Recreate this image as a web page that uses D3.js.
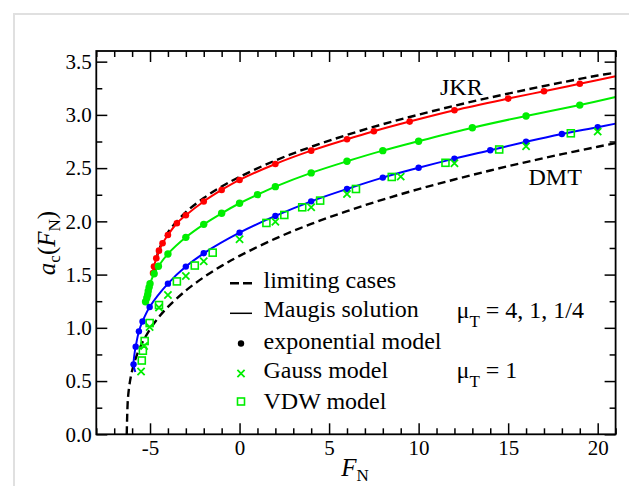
<!DOCTYPE html>
<html><head><meta charset="utf-8">
<script src="https://cdn.jsdelivr.net/npm/d3@7"></script>
<style>
html,body{margin:0;padding:0;background:#fff;}
svg text{font-family:"Liberation Serif","Times New Roman",serif;fill:#000;}
</style></head>
<body>
<svg id="chart" width="629" height="486"></svg>
<script>
// ---------- data ----------
const xMajorTicks = [-5, 0, 5, 10, 15, 20];
const xMinorTicks = [-8,-7,-6,-4,-3,-2,-1,1,2,3,4,6,7,8,9,11,12,13,14,16,17,18,19,21];
const yMajorTicks = [0, 0.5, 1.0, 1.5, 2.0, 2.5, 3.0, 3.5];
const yMinorTicks = [0.25, 0.75, 1.25, 1.75, 2.25, 2.75, 3.25];

// limiting cases (dashed)
const jkrF = [-4.712,-4.6,-4.5,-4,-3,-2,-1,0,2,4,6,8,10,12,14,16,18,20,21];
const jkrA = [1.523,1.676,1.732,1.896,2.086,2.219,2.327,2.418,2.572,2.700,2.812,2.912,3.002,3.086,3.163,3.236,3.305,3.370,3.395];
const dmtF = [-6.30,-6.25,-6.2,-6.1,-6.0,-5.8,-5.5,-5,-4.5,-4,-3,-2,-1,0,2,4,6,8,10,12,14,16,18,20,21];
const dmtA = [0,0.29,0.397,0.516,0.597,0.713,0.837,0.987,1.102,1.196,1.350,1.475,1.582,1.676,1.838,1.976,2.096,2.204,2.303,2.393,2.478,2.557,2.631,2.701,2.735];

// Maugis solutions (solid)
const maugis4F = [-4.85,-4.78,-4.65,-4.5,-4.3,-4,-3.5,-3,-2,-1,0,2,4,6,7.5,9.5,12,15,17,19,21];
const maugis4A = [1.52,1.575,1.653,1.725,1.794,1.872,1.982,2.058,2.187,2.295,2.389,2.539,2.664,2.771,2.846,2.937,3.043,3.153,3.222,3.292,3.362];
const maugis1F = [-5.25,-5.18,-5.13,-5.1,-5.05,-5.0,-4.77,-4.53,-4,-3,-2,-1,0,1,2,4,6,8,10,13,16,19,21];
const maugis1A = [1.245,1.28,1.31,1.345,1.38,1.415,1.508,1.578,1.694,1.85,1.972,2.076,2.17,2.251,2.326,2.455,2.564,2.664,2.752,2.879,2.99,3.092,3.168];
const maugisQF = [-5.82,-5.89,-5.92,-5.88,-5.8,-5.62,-5.42,-5.02,-4,-3,-2,0,2,4,6,8,10,12,14,16,18,20,21];
const maugisQA = [0.585,0.625,0.66,0.74,0.823,0.967,1.06,1.196,1.415,1.575,1.70,1.894,2.051,2.188,2.304,2.411,2.503,2.589,2.668,2.747,2.82,2.884,2.918];

// exponential model (dots)
const expRedF = [19,17,15,12,9.5,7.5,6,4,2,0,-1,-2,-3,-3.5,-4,-4.3,-4.5,-4.65,-4.78,-4.83];
const expRedA = [3.292,3.222,3.153,3.043,2.937,2.846,2.771,2.664,2.539,2.389,2.295,2.187,2.058,1.982,1.872,1.794,1.725,1.653,1.575,1.515];
const expGreenF = [19,16,13,10,8,6,4,2,1,0,-1,-2,-3,-4,-4.53,-4.77,-5.0,-5.05,-5.1,-5.13,-5.18,-5.25];
const expGreenA = [3.092,2.99,2.879,2.752,2.664,2.564,2.455,2.326,2.251,2.17,2.076,1.972,1.85,1.694,1.578,1.508,1.415,1.38,1.345,1.31,1.28,1.245];
const expBlueF = [20,18,16,14,12,10,8,6,4,2,0,-2,-3,-4,-5.02,-5.42,-5.62,-5.8,-5.92];
const expBlueA = [2.884,2.82,2.747,2.668,2.589,2.503,2.411,2.304,2.188,2.051,1.894,1.70,1.575,1.415,1.196,1.06,0.967,0.823,0.657];

// Gauss model (x) and VDW model (squares)
const gaussF = [20,16,12,9,6,4,2,0,-2,-3,-4,-4.5,-5.02,-5.33,-5.5];
const gaussA = [2.843,2.706,2.545,2.42,2.257,2.132,1.997,1.832,1.625,1.487,1.308,1.19,1.008,0.83,0.589];
const vdwF = [18.5,14.5,11.5,8.5,6.5,4.5,3.5,2.5,1.5,-1.5,-2.5,-3.5,-4.5,-5.02,-5.3,-5.4,-5.46];
const vdwA = [2.827,2.675,2.55,2.417,2.304,2.195,2.132,2.06,1.985,1.706,1.585,1.436,1.214,1.045,0.876,0.785,0.693];

const legendLabels = ["limiting cases","Maugis solution","exponential model","Gauss model","VDW model"];

// ---------- drawing ----------
const svg = d3.select("#chart");
const L = 96.3, R = 615.6, T = 51.0, B = 434.3;
const x = d3.scaleLinear().domain([-8, 21]).range([L, R]);
const y = d3.scaleLinear().domain([0, 3.6]).range([B, T]);

const RED = "#ff0000", GREEN = "#00ee00", BLUE = "#0000ff";

// outer light frame
svg.append("rect").attr("x",14).attr("y",14).attr("width",700).attr("height",700)
  .attr("fill","none").attr("stroke","#e0e0e0").attr("stroke-width",2);

const zip = (a,b) => a.map((v,i)=>[v,b[i]]);
const line = d3.line().x(d=>x(d[0])).y(d=>y(d[1])).curve(d3.curveCatmullRom.alpha(0.5));

const clip = svg.append("clipPath").attr("id","clip").append("rect")
  .attr("x",L).attr("y",T).attr("width",R-L).attr("height",B-T);
const plot = svg.append("g").attr("clip-path","url(#clip)");

// dashed limits
[[jkrF,jkrA],[dmtF,dmtA]].forEach(([f,a])=>{
  plot.append("path").attr("d", line(zip(f,a))).attr("fill","none")
    .attr("stroke","#000").attr("stroke-width",2.4).attr("stroke-dasharray","8,4.5");
});
// Maugis lines
[[maugis4F,maugis4A,RED],[maugis1F,maugis1A,GREEN],[maugisQF,maugisQA,BLUE]].forEach(([f,a,c])=>{
  plot.append("path").attr("d", line(zip(f,a))).attr("fill","none")
    .attr("stroke",c).attr("stroke-width",2);
});

// dots
[[expRedF,expRedA,RED,3.3],[expGreenF,expGreenA,GREEN,3.7],[expBlueF,expBlueA,BLUE,3.2]].forEach(([f,a,c,r])=>{
  plot.append("g").selectAll("circle").data(zip(f,a)).join("circle")
    .attr("cx",d=>x(d[0])).attr("cy",d=>y(d[1])).attr("r",r).attr("fill",c);
});
// Gauss crosses
const xs = 3.6;
plot.append("g").selectAll("path").data(zip(gaussF,gaussA)).join("path")
  .attr("d",d=>{const cx=x(d[0]),cy=y(d[1]);return `M${cx-xs},${cy-xs}L${cx+xs},${cy+xs}M${cx-xs},${cy+xs}L${cx+xs},${cy-xs}`;})
  .attr("stroke",GREEN).attr("stroke-width",1.8).attr("fill","none");
// VDW squares
const sq = 7;
plot.append("g").selectAll("rect").data(zip(vdwF,vdwA)).join("rect")
  .attr("x",d=>x(d[0])-sq/2).attr("y",d=>y(d[1])-sq/2).attr("width",sq).attr("height",sq)
  .attr("fill","none").attr("stroke",GREEN).attr("stroke-width",1.6);

// axes
function styleAxis(g){ g.select(".domain").remove(); g.selectAll("line").attr("stroke","#000").attr("stroke-width",1.5);
  g.selectAll("text").attr("font-size",21).attr("font-family","'Liberation Serif',serif").attr("fill","#000"); }
const MAJ = 11, MIN = 6;
svg.append("g").attr("transform",`translate(0,${B})`)
  .call(d3.axisBottom(x).tickValues(xMajorTicks).tickSize(-MAJ).tickSizeOuter(0).tickPadding(5.6).tickFormat(d=>String(d)))
  .call(styleAxis);
svg.append("g").attr("transform",`translate(0,${B})`)
  .call(d3.axisBottom(x).tickValues(xMinorTicks).tickSize(-MIN).tickSizeOuter(0).tickFormat(""))
  .call(styleAxis);
svg.append("g").attr("transform",`translate(0,${T})`)
  .call(d3.axisTop(x).tickValues(xMajorTicks).tickSize(-MAJ).tickSizeOuter(0).tickFormat(""))
  .call(styleAxis);
svg.append("g").attr("transform",`translate(0,${T})`)
  .call(d3.axisTop(x).tickValues(xMinorTicks).tickSize(-MIN).tickSizeOuter(0).tickFormat(""))
  .call(styleAxis);
svg.append("g").attr("transform",`translate(${L},0)`)
  .call(d3.axisLeft(y).tickValues(yMajorTicks).tickSize(-MAJ).tickSizeOuter(0).tickPadding(4.5).tickFormat(d3.format(".1f")))
  .call(styleAxis);
svg.append("g").attr("transform",`translate(${L},0)`)
  .call(d3.axisLeft(y).tickValues(yMinorTicks).tickSize(-MIN).tickSizeOuter(0).tickFormat(""))
  .call(styleAxis);
svg.append("g").attr("transform",`translate(${R},0)`)
  .call(d3.axisRight(y).tickValues(yMajorTicks).tickSize(-MAJ).tickSizeOuter(0).tickFormat(""))
  .call(styleAxis);
svg.append("g").attr("transform",`translate(${R},0)`)
  .call(d3.axisRight(y).tickValues(yMinorTicks).tickSize(-MIN).tickSizeOuter(0).tickFormat(""))
  .call(styleAxis);

// frame
svg.append("rect").attr("x",L).attr("y",T).attr("width",R-L).attr("height",B-T)
  .attr("fill","none").attr("stroke","#000").attr("stroke-width",1.8);

// axis titles
const xt = svg.append("text").attr("x",355).attr("y",476).attr("text-anchor","middle").attr("font-size",25);
xt.append("tspan").attr("font-style","italic").text("F");
xt.append("tspan").attr("font-size",17).attr("dy",5).text("N");

const yt = svg.append("text").attr("transform","translate(55,243) rotate(-90)").attr("text-anchor","middle").attr("font-size",25);
yt.append("tspan").attr("font-style","italic").text("a");
yt.append("tspan").attr("font-size",17).attr("dy",5).text("c");
yt.append("tspan").attr("dy",-5).text("(");
yt.append("tspan").attr("font-style","italic").text("F");
yt.append("tspan").attr("font-size",17).attr("dy",5).text("N");
yt.append("tspan").attr("dy",-5).text(")");

// curve labels
svg.append("text").attr("x",440).attr("y",95).attr("font-size",24).text("JKR");
svg.append("text").attr("x",528.5).attr("y",185).attr("font-size",24).text("DMT");

// legend
const legY = [288, 317, 349, 378, 409];
const symY = [283.3, 313.3, 343.5, 373.5, 401.5];
legendLabels.forEach((t,i)=>{
  svg.append("text").attr("x",263.5).attr("y",legY[i]).attr("font-size",24).text(t);
});
svg.append("line").attr("x1",230).attr("x2",252).attr("y1",symY[0]).attr("y2",symY[0])
  .attr("stroke","#000").attr("stroke-width",2.4).attr("stroke-dasharray","9,4");
svg.append("line").attr("x1",230).attr("x2",252).attr("y1",symY[1]).attr("y2",symY[1])
  .attr("stroke","#000").attr("stroke-width",1.5);
svg.append("circle").attr("cx",241).attr("cy",symY[2]).attr("r",3.2).attr("fill","#000");
svg.append("path").attr("d",`M${241-xs},${symY[3]-xs}L${241+xs},${symY[3]+xs}M${241-xs},${symY[3]+xs}L${241+xs},${symY[3]-xs}`)
  .attr("stroke",GREEN).attr("stroke-width",1.8);
svg.append("rect").attr("x",241-sq/2).attr("y",symY[4]-sq/2).attr("width",sq).attr("height",sq)
  .attr("fill","none").attr("stroke",GREEN).attr("stroke-width",1.6);

// mu labels
function muLabel(yb, rest){
  const t = svg.append("text").attr("x",456.5).attr("y",yb).attr("font-size",24);
  t.append("tspan").text("μ");
  t.append("tspan").attr("font-size",17).attr("dy",9).text("T");
  t.append("tspan").attr("dy",-9).text(rest);
}
muLabel(318, " = 4, 1, 1/4");
muLabel(378, " = 1");
</script>
</body></html>
